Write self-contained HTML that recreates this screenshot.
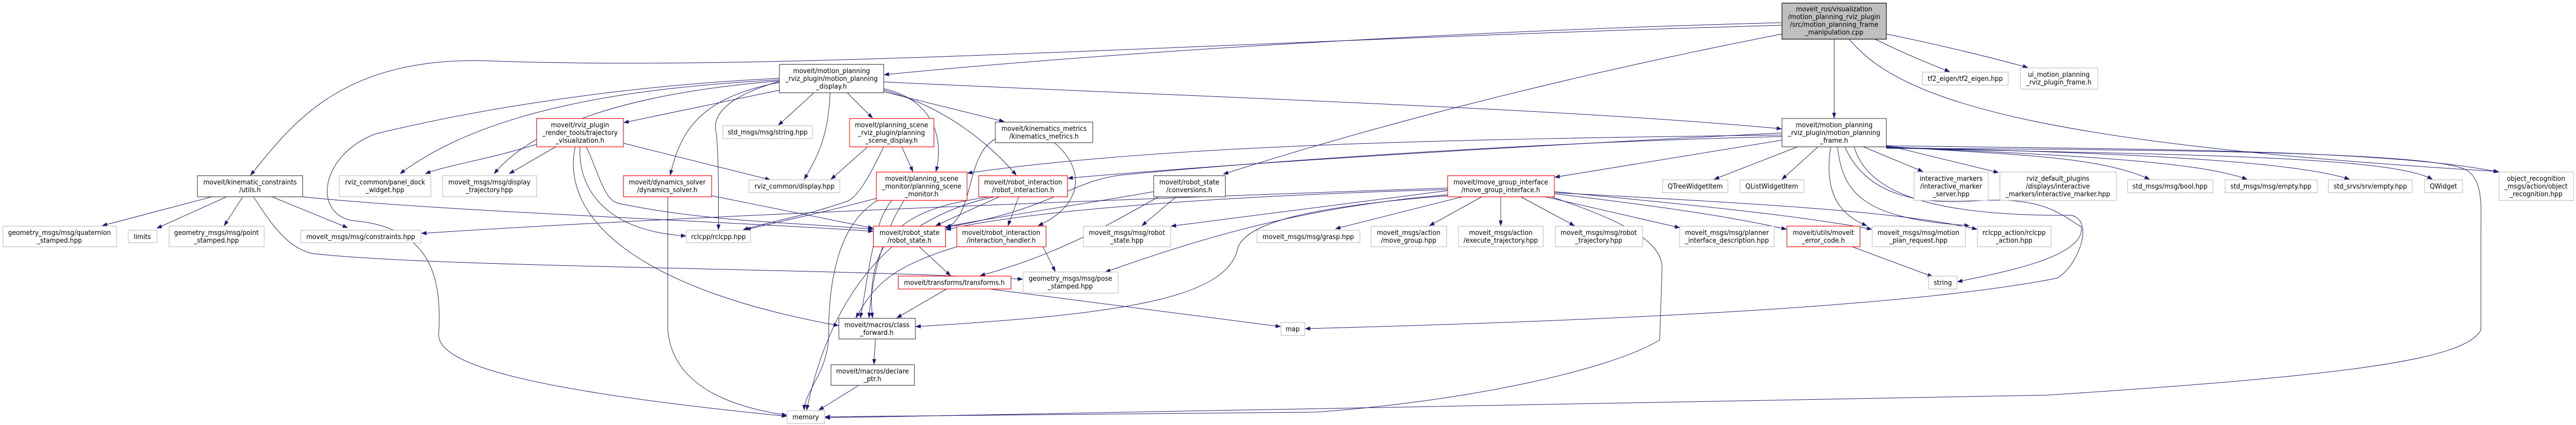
<!DOCTYPE html>
<html><head><meta charset="utf-8"><style>
html,body{margin:0;padding:0;background:#fff;width:100%;height:100%;overflow:hidden;}
svg{display:block;width:100vw;height:100vh;}
text{font-family:"DejaVu Sans","Liberation Sans",sans-serif;font-size:13px;fill:#000;text-anchor:middle;}
.b{fill:#fff;stroke:#404040;stroke-width:1.2;}
.g{fill:#fff;stroke:#bfbfbf;stroke-width:1.2;}
.r{fill:#fff;stroke:#ff0000;stroke-width:1.2;}
.root{fill:#bfbfbf;stroke:#000;stroke-width:1.2;}
path.e{fill:none;stroke:#191970;stroke-width:1;marker-end:url(#a);}
</style></head><body>
<svg viewBox="0 0 5285 825" preserveAspectRatio="none" xmlns="http://www.w3.org/2000/svg">
<defs><marker id="a" markerWidth="11" markerHeight="8" refX="10" refY="4" orient="auto" markerUnits="userSpaceOnUse"><path d="M0,0 L11,4 L0,8 z" fill="#191970"/></marker></defs>
<g>
<path class="e" d="M3763,76 L3763,229"/>
<path class="e" d="M3847,76 Q3920,110 4000,139"/>
<path class="e" d="M3870,66 Q4020,95 4160,131"/>
<path class="e" d="M3656,44 C3000,60 2300,100 1814,145"/>
<path class="e" d="M3656,49 C2500,80 1600,140 1000,118 C700,110 600,240 514,340"/>
<path class="e" d="M3656,66 C3200,150 2800,250 2510,338"/>
<path class="e" d="M3794,76 C3900,200 4200,280 5126,333"/>
<path class="e" d="M1813,159 C2500,190 3200,210 3655,250"/>
<path class="e" d="M1599,175 L1280,238"/>
<path class="e" d="M1670,180 L1597,243"/>
<path class="e" d="M1703,180 C1700,260 1680,300 1650,348"/>
<path class="e" d="M1738,180 L1790,229"/>
<path class="e" d="M1813,172 C1940,200 1930,300 1920,333"/>
<path class="e" d="M1813,178 L2060,236"/>
<path class="e" d="M1813,175 C1950,210 2040,290 2085,340"/>
<path class="e" d="M1599,160 C1430,190 1395,260 1375,340"/>
<path class="e" d="M1599,158 C1480,190 1460,230 1470,260 C1475,320 1474,400 1474,446"/>
<path class="e" d="M1599,155 C1300,170 1000,210 821,337"/>
<path class="e" d="M1599,157 C1300,180 1100,240 1014,337"/>
<path class="e" d="M1599,152 C1200,170 900,230 770,260 C660,300 640,410 720,428 C900,440 905,560 900,650 C900,710 1100,760 1614,808"/>
<path class="e" d="M1101,280 C1000,310 920,320 873,337"/>
<path class="e" d="M1140,285 L1045,337"/>
<path class="e" d="M1279,278 L1580,349"/>
<path class="e" d="M1190,285 C1185,380 1260,450 1407,458"/>
<path class="e" d="M1203,285 C1230,340 1240,390 1270,395 C1450,430 1600,430 1791,445"/>
<path class="e" d="M1180,285 C1150,420 1300,560 1720,632"/>
<path class="e" d="M1780,285 L1705,348"/>
<path class="e" d="M1850,285 L1873,333"/>
<path class="e" d="M1813,285 C1780,350 1760,380 1740,390 C1650,420 1580,430 1525,446"/>
<path class="e" d="M1460,380 L1791,443"/>
<path class="e" d="M1370,382 L1370,640 C1380,750 1500,790 1614,806"/>
<path class="e" d="M1798,385 C1700,410 1600,430 1530,446"/>
<path class="e" d="M1830,389 C1790,430 1780,550 1765,617"/>
<path class="e" d="M1855,389 C1820,440 1790,520 1783,617"/>
<path class="e" d="M1800,389 C1730,430 1700,520 1700,650 C1700,720 1650,760 1650,796"/>
<path class="e" d="M2050,382 L1920,438"/>
<path class="e" d="M2090,382 L2068,438"/>
<path class="e" d="M2030,382 C1900,400 1770,430 1790,617"/>
<path class="e" d="M2040,382 C1900,410 1720,500 1655,796"/>
<path class="e" d="M1886,479 L1950,535"/>
<path class="e" d="M1963,479 C1820,520 1790,560 1756,617"/>
<path class="e" d="M2140,479 L2165,527"/>
<path class="e" d="M1942,561 L1840,617"/>
<path class="e" d="M2030,561 L2627,634"/>
<path class="e" d="M1796,658 L1793,707"/>
<path class="e" d="M1762,748 L1680,796"/>
<path class="e" d="M435,382 L210,438"/>
<path class="e" d="M465,382 L322,443"/>
<path class="e" d="M498,382 L460,438"/>
<path class="e" d="M558,382 L713,442"/>
<path class="e" d="M621,382 C900,410 1500,430 1791,449"/>
<path class="e" d="M520,382 C560,440 590,480 640,492 C900,520 1700,520 2098,542"/>
<path class="e" d="M2163,277 C2230,330 2220,400 2130,438"/>
<path class="e" d="M2042,270 C1980,300 2000,420 1940,443"/>
<path class="e" d="M2413,382 L2343,438"/>
<path class="e" d="M2367,372 C2200,400 2050,420 1941,440"/>
<path class="e" d="M2377,382 C2250,450 2150,500 2011,535"/>
<path class="e" d="M2970,370 L2403,439"/>
<path class="e" d="M3000,382 L2740,444"/>
<path class="e" d="M3040,382 L2933,438"/>
<path class="e" d="M3079,382 L3079,438"/>
<path class="e" d="M3120,382 L3230,438"/>
<path class="e" d="M3170,382 L3446,442"/>
<path class="e" d="M3189,376 C3400,400 3550,420 3665,445"/>
<path class="e" d="M3189,372 C3500,400 3700,420 3840,445"/>
<path class="e" d="M3189,374 C3600,395 3900,410 4056,445"/>
<path class="e" d="M2970,365 C2200,390 1400,420 865,453"/>
<path class="e" d="M2970,378 C2700,400 2500,450 2268,528"/>
<path class="e" d="M2970,368 C2500,380 2100,410 1941,446"/>
<path class="e" d="M2970,380 C2700,400 2560,430 2540,480 C2520,580 2300,610 1879,634"/>
<path class="e" d="M3171,378 C3300,420 3410,460 3410,520 L3405,660 C3300,720 3000,780 2700,800 L1693,809"/>
<path class="e" d="M3656,272 L3190,344"/>
<path class="e" d="M3688,285 L3517,348"/>
<path class="e" d="M3730,285 L3656,348"/>
<path class="e" d="M3823,285 L3945,333"/>
<path class="e" d="M3870,282 L4100,335"/>
<path class="e" d="M3756,285 C3740,380 3780,420 3830,438"/>
<path class="e" d="M3770,285 C3780,380 3830,425 4040,438"/>
<path class="e" d="M3785,285 C3820,360 3900,400 4050,390 C4200,380 4230,420 4270,440 C4280,500 4100,530 4016,547"/>
<path class="e" d="M3804,285 C3830,370 3950,420 4250,418 C4300,430 4260,520 4220,540 C3900,600 3200,625 2678,638"/>
<path class="e" d="M3870,284 C4100,300 4300,300 4410,348"/>
<path class="e" d="M3870,285 C4200,300 4500,310 4610,348"/>
<path class="e" d="M3870,286 C4300,295 4700,310 4820,348"/>
<path class="e" d="M3870,287 C4400,300 4900,300 4990,348"/>
<path class="e" d="M3870,283 C4400,290 4900,290 5126,334"/>
<path class="e" d="M3870,288 C4600,290 5000,300 5060,330 C5095,350 5090,400 5090,450 L5090,640 C5060,700 4800,730 4200,767 L1693,811"/>
<path class="e" d="M3656,258 C3000,290 2500,320 2191,346"/>
<path class="e" d="M3656,262 C3000,270 2400,280 1985,336"/>
<path class="e" d="M3656,265 C3000,280 2400,330 2300,340 C2200,350 2150,410 1941,441"/>
<path class="e" d="M3800,479 L3965,537"/>
</g>
<g>
<rect class="root" x="3656" y="6" width="214" height="70"/>
<text x="3763" y="22">moveit_ros/visualization</text><text x="3763" y="37">/motion_planning_rviz_plugin</text><text x="3763" y="52">/src/motion_planning_frame</text><text x="3763" y="67">_manipulation.cpp</text>
<rect class="b" x="1599" y="125" width="214" height="55"/>
<text x="1706" y="142">moveit/motion_planning</text><text x="1706" y="157">_rviz_plugin/motion_planning</text><text x="1706" y="172">_display.h</text>
<rect class="b" x="3656" y="230" width="214" height="55"/>
<text x="3763" y="247">moveit/motion_planning</text><text x="3763" y="262">_rviz_plugin/motion_planning</text><text x="3763" y="277">_frame.h</text>
<rect class="b" x="405" y="341" width="216" height="41"/>
<text x="513" y="358">moveit/kinematic_constraints</text><text x="513" y="373">/utils.h</text>
<rect class="g" x="696" y="341" width="188" height="41"/>
<text x="790" y="358">rviz_common/panel_dock</text><text x="790" y="373">_widget.hpp</text>
<rect class="g" x="908" y="341" width="193" height="41"/>
<text x="1004" y="358">moveit_msgs/msg/display</text><text x="1004" y="373">_trajectory.hpp</text>
<rect class="g" x="6" y="439" width="233" height="40"/>
<text x="122" y="456">geometry_msgs/msg/quaternion</text><text x="122" y="471">_stamped.hpp</text>
<rect class="g" x="263" y="447" width="59" height="24"/>
<text x="292" y="464">limits</text>
<rect class="g" x="347" y="439" width="195" height="40"/>
<text x="444" y="456">geometry_msgs/msg/point</text><text x="444" y="471">_stamped.hpp</text>
<rect class="g" x="617" y="447" width="247" height="24"/>
<text x="740" y="464">moveit_msgs/msg/constraints.hpp</text>
<rect class="r" x="1101" y="230" width="178" height="55"/>
<text x="1190" y="247">moveit/rviz_plugin</text><text x="1190" y="262">_render_tools/trajectory</text><text x="1190" y="277">_visualization.h</text>
<rect class="g" x="1483" y="244" width="184" height="25"/>
<text x="1575" y="261">std_msgs/msg/string.hpp</text>
<rect class="r" x="1743" y="230" width="173" height="55"/>
<text x="1829" y="247">moveit/planning_scene</text><text x="1829" y="262">_rviz_plugin/planning</text><text x="1829" y="277">_scene_display.h</text>
<rect class="b" x="2042" y="237" width="200" height="40"/>
<text x="2142" y="254">moveit/kinematics_metrics</text><text x="2142" y="269">/kinematics_metrics.h</text>
<rect class="r" x="1279" y="341" width="181" height="41"/>
<text x="1369" y="358">moveit/dynamics_solver</text><text x="1369" y="373">/dynamics_solver.h</text>
<rect class="g" x="1537" y="349" width="186" height="25"/>
<text x="1630" y="366">rviz_common/display.hpp</text>
<rect class="r" x="1798" y="334" width="186" height="55"/>
<text x="1891" y="351">moveit/planning_scene</text><text x="1891" y="366">_monitor/planning_scene</text><text x="1891" y="381">_monitor.h</text>
<rect class="r" x="2008" y="341" width="182" height="41"/>
<text x="2099" y="358">moveit/robot_interaction</text><text x="2099" y="373">/robot_interaction.h</text>
<rect class="g" x="1408" y="447" width="132" height="24"/>
<text x="1474" y="464">rclcpp/rclcpp.hpp</text>
<rect class="r" x="1792" y="439" width="148" height="40"/>
<text x="1866" y="456">moveit/robot_state</text><text x="1866" y="471">/robot_state.h</text>
<rect class="r" x="1963" y="439" width="183" height="40"/>
<text x="2054" y="456">moveit/robot_interaction</text><text x="2054" y="471">/interaction_handler.h</text>
<rect class="g" x="2099" y="528" width="195" height="41"/>
<text x="2196" y="545">geometry_msgs/msg/pose</text><text x="2196" y="560">_stamped.hpp</text>
<rect class="r" x="1843" y="536" width="231" height="25"/>
<text x="1958" y="553">moveit/transforms/transforms.h</text>
<rect class="b" x="1721" y="618" width="157" height="40"/>
<text x="1799" y="635">moveit/macros/class</text><text x="1799" y="650">_forward.h</text>
<rect class="b" x="1705" y="708" width="171" height="40"/>
<text x="1790" y="725">moveit/macros/declare</text><text x="1790" y="740">_ptr.h</text>
<rect class="g" x="1615" y="797" width="77" height="25"/>
<text x="1653" y="814">memory</text>
<rect class="b" x="2367" y="341" width="147" height="41"/>
<text x="2440" y="358">moveit/robot_state</text><text x="2440" y="373">/conversions.h</text>
<rect class="g" x="2223" y="439" width="179" height="40"/>
<text x="2312" y="456">moveit_msgs/msg/robot</text><text x="2312" y="471">_state.hpp</text>
<rect class="g" x="2579" y="447" width="211" height="24"/>
<text x="2684" y="464">moveit_msgs/msg/grasp.hpp</text>
<rect class="g" x="2813" y="439" width="155" height="40"/>
<text x="2890" y="456">moveit_msgs/action</text><text x="2890" y="471">/move_group.hpp</text>
<rect class="g" x="2992" y="439" width="174" height="40"/>
<text x="3079" y="456">moveit_msgs/action</text><text x="3079" y="471">/execute_trajectory.hpp</text>
<rect class="r" x="2970" y="341" width="219" height="41"/>
<text x="3079" y="358">moveit/move_group_interface</text><text x="3079" y="373">/move_group_interface.h</text>
<rect class="g" x="2628" y="626" width="49" height="25"/>
<text x="2652" y="643">map</text>
<rect class="g" x="3944" y="140" width="176" height="25"/>
<text x="4032" y="157">tf2_eigen/tf2_eigen.hpp</text>
<rect class="g" x="4145" y="132" width="159" height="41"/>
<text x="4224" y="149">ui_motion_planning</text><text x="4224" y="164">_rviz_plugin_frame.h</text>
<rect class="g" x="3411" y="349" width="134" height="25"/>
<text x="3478" y="366">QTreeWidgetItem</text>
<rect class="g" x="3570" y="349" width="131" height="25"/>
<text x="3635" y="366">QListWidgetItem</text>
<rect class="g" x="3927" y="334" width="152" height="55"/>
<text x="4003" y="351">interactive_markers</text><text x="4003" y="366">/interactive_marker</text><text x="4003" y="381">_server.hpp</text>
<rect class="g" x="4103" y="334" width="239" height="55"/>
<text x="4222" y="351">rviz_default_plugins</text><text x="4222" y="366">/displays/interactive</text><text x="4222" y="381">_markers/interactive_marker.hpp</text>
<rect class="g" x="3191" y="439" width="179" height="40"/>
<text x="3280" y="456">moveit_msgs/msg/robot</text><text x="3280" y="471">_trajectory.hpp</text>
<rect class="g" x="3446" y="439" width="194" height="40"/>
<text x="3543" y="456">moveit_msgs/msg/planner</text><text x="3543" y="471">_interface_description.hpp</text>
<rect class="r" x="3666" y="439" width="150" height="40"/>
<text x="3741" y="456">moveit/utils/moveit</text><text x="3741" y="471">_error_code.h</text>
<rect class="g" x="3841" y="439" width="191" height="40"/>
<text x="3936" y="456">moveit_msgs/msg/motion</text><text x="3936" y="471">_plan_request.hpp</text>
<rect class="g" x="4057" y="439" width="151" height="40"/>
<text x="4132" y="456">rclcpp_action/rclcpp</text><text x="4132" y="471">_action.hpp</text>
<rect class="g" x="3957" y="536" width="58" height="25"/>
<text x="3986" y="553">string</text>
<rect class="g" x="4365" y="349" width="175" height="25"/>
<text x="4452" y="366">std_msgs/msg/bool.hpp</text>
<rect class="g" x="4565" y="349" width="189" height="25"/>
<text x="4659" y="366">std_msgs/msg/empty.hpp</text>
<rect class="g" x="4777" y="349" width="172" height="25"/>
<text x="4863" y="366">std_srvs/srv/empty.hpp</text>
<rect class="g" x="4974" y="349" width="78" height="25"/>
<text x="5013" y="366">QWidget</text>
<rect class="g" x="5127" y="334" width="153" height="55"/>
<text x="5203" y="351">object_recognition</text><text x="5203" y="366">_msgs/action/object</text><text x="5203" y="381">_recognition.hpp</text>
</g>
</svg>
</body></html>
